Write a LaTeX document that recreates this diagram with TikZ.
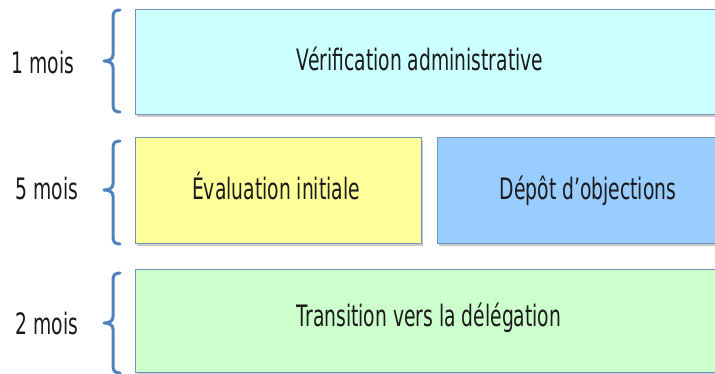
\documentclass[tikz,border=0pt]{standalone}
\usepackage{fontspec}
\setmainfont{DejaVu Sans}[FakeStretch=0.635]
\usetikzlibrary{shadows}
\definecolor{bracecol}{HTML}{4F81BD}
\definecolor{edgecol}{HTML}{7393B7}
\definecolor{cyanfill}{HTML}{CCFFFF}
\definecolor{yellowfill}{HTML}{FFFF99}
\definecolor{bluefill}{HTML}{99CCFF}
\definecolor{greenfill}{HTML}{CCFFCC}
\definecolor{txt}{HTML}{1A1A1A}
\tikzset{
  phasebox/.style={draw=edgecol, line width=1.2pt, anchor=north west, inner sep=0pt,
    drop shadow={shadow xshift=1pt, shadow yshift=-2.5pt, opacity=0.35, fill=black!60}},
  lbl/.style={anchor=base, inner sep=0pt, text=txt, font=\fontsize{29.5}{35}\selectfont},
  bracepath/.style={draw=bracecol, line width=3pt, line cap=round, line join=round},
}
\begin{document}
\begin{tikzpicture}[x=1pt, y=-1pt]
\useasboundingbox (0,0) rectangle (715,374);
\clip (0,0) rectangle (715,374);
% boxes
\node[phasebox, fill=cyanfill, minimum width=590pt, minimum height=105pt] (verif) at (135,9) {};
\node[phasebox, fill=yellowfill, minimum width=286pt, minimum height=106pt] (eval) at (135,137) {};
\node[phasebox, fill=bluefill, minimum width=298pt, minimum height=106pt] (depot) at (437,137) {};
\node[phasebox, fill=greenfill, minimum width=590pt, minimum height=103pt] (trans) at (135,269) {};
% box texts
\node[lbl] (tverif) at (420,71) {Vérification administrative};
\node[lbl] (teval) at (276,200) {Évaluation initiale};
\node[lbl] (tdepot) at (588,200) {Dépôt d’objections};
\node[lbl] (ttrans) at (429,326) {Transition vers la délégation};
% durations
\node[lbl] (d1) at (43,74) {1 mois};
\node[lbl] (d5) at (47,200) {5 mois};
\node[lbl] (d2) at (47,334) {2 mois};
% braces
\draw[bracepath] (120,10) .. controls (115,10) and (113,12) .. (113,17) -- (113,55)
  .. controls (113,59) and (109,61) .. (104,61) .. controls (109,61) and (113,63) .. (113,67)
  -- (113,105) .. controls (113,110) and (115,112) .. (120,112);
\draw[bracepath] (120,141) .. controls (115,141) and (113,143) .. (113,148) -- (113,184)
  .. controls (113,188) and (109,190) .. (104,190) .. controls (109,190) and (113,192) .. (113,196)
  -- (113,237) .. controls (113,242) and (115,244) .. (120,244);
\draw[bracepath] (120,273) .. controls (115,273) and (113,275) .. (113,280) -- (113,317)
  .. controls (113,321) and (109,323) .. (104,323) .. controls (109,323) and (113,325) .. (113,329)
  -- (113,366) .. controls (113,371) and (115,373) .. (120,373);
\end{tikzpicture}
\end{document}
